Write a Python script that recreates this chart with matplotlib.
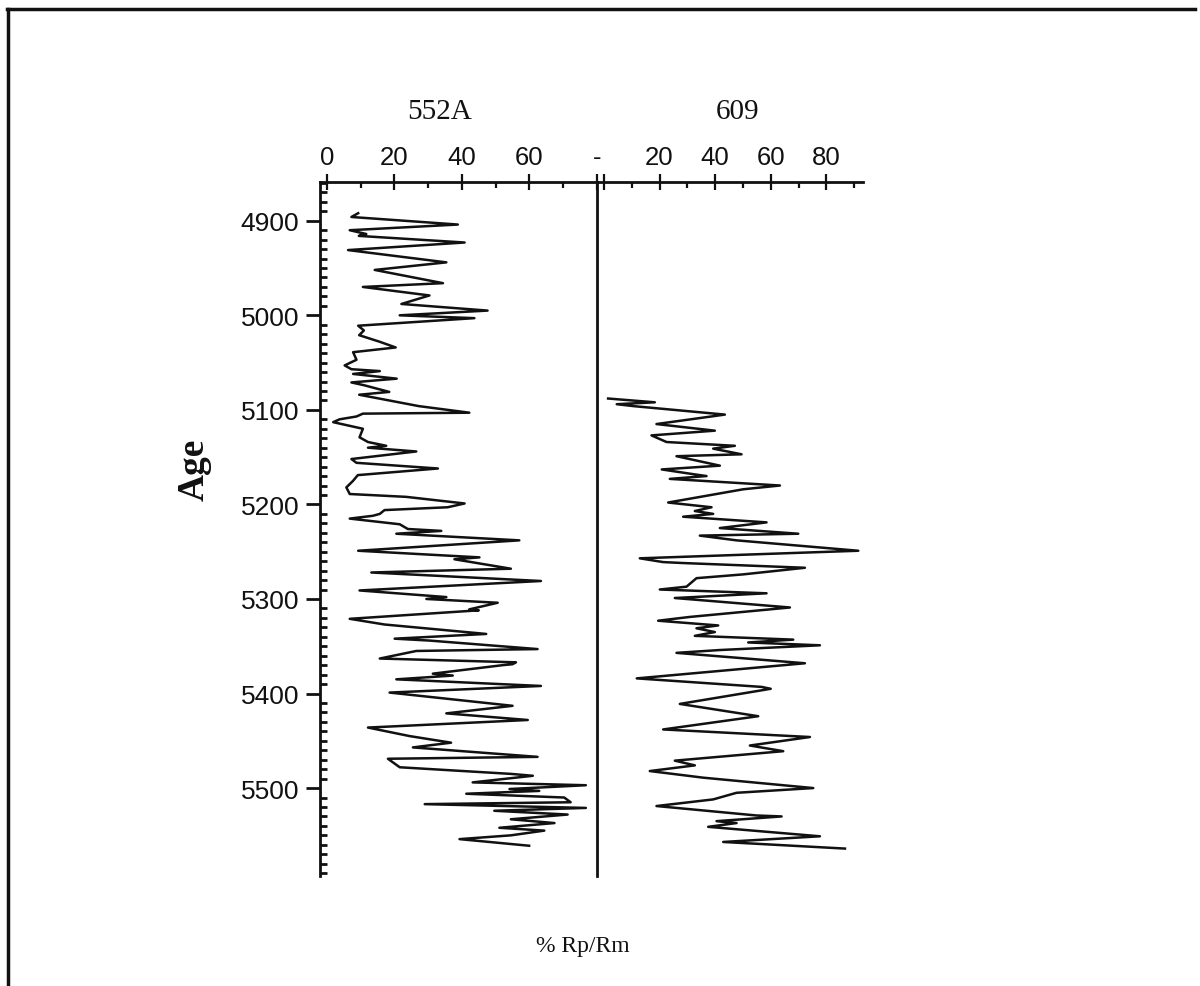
import matplotlib
matplotlib.use("Agg")
import matplotlib.pyplot as plt
from matplotlib.lines import Line2D
from matplotlib.ticker import FixedLocator

# ---------------- data ----------------
age_552a = [4892, 4896, 4904, 4910, 4914, 4916, 4923, 4931, 4944, 4952, 4966, 4970, 4979, 4988,
            4995, 5000, 5003, 5011, 5016, 5021, 5028, 5034, 5039, 5047, 5053, 5057, 5059, 5062,
            5067, 5071, 5074, 5081, 5084, 5096, 5103, 5104, 5107, 5110, 5113, 5120, 5129, 5134,
            5138, 5140, 5144, 5152, 5156, 5162, 5169, 5175, 5182, 5189, 5192, 5199, 5203, 5206,
            5210, 5212, 5215, 5221, 5226, 5228, 5231, 5238, 5249, 5256, 5258, 5268, 5272, 5281,
            5291, 5298, 5300, 5304, 5311, 5312, 5321, 5327, 5337, 5342, 5344, 5353, 5355, 5363,
            5367, 5369, 5370, 5379, 5381, 5385, 5392, 5399, 5413, 5421, 5428, 5436, 5445, 5452,
            5457, 5467, 5469, 5478, 5485, 5487, 5494, 5497, 5501, 5503, 5506, 5510, 5515, 5517,
            5521, 5524, 5528, 5533, 5537, 5542, 5545, 5550, 5554, 5561]
val_552a = [9.3, 7.3, 38.8, 6.8, 11.7, 9.5, 40.8, 6.3, 35.4, 14.2, 34.4, 10.7, 30.4, 22.1,
            47.6, 21.6, 43.7, 9.3, 11.0, 9.6, 15.7, 20.4, 7.8, 8.8, 5.3, 7.3, 15.7, 7.8,
            20.7, 7.3, 11.1, 18.5, 9.6, 27.2, 42.2, 10.7, 8.8, 3.8, 1.9, 10.7, 9.7, 12.2,
            17.6, 12.2, 26.5, 7.3, 8.8, 32.9, 9.2, 7.8, 5.8, 6.8, 23.5, 40.8, 35.8, 17.1,
            15.7, 13.7, 6.8, 21.6, 24.0, 33.9, 20.6, 57.0, 9.3, 45.2, 37.8, 54.5, 13.2, 63.4,
            9.7, 35.4, 29.5, 50.6, 42.2, 45.0, 6.8, 17.1, 47.2, 20.1, 30.4, 62.4, 26.5, 15.7,
            56.0, 55.0, 52.1, 31.4, 37.3, 20.6, 63.4, 18.6, 55.0, 35.4, 59.5, 12.2, 24.5, 36.8,
            25.5, 62.4, 18.1, 21.6, 54.5, 61.0, 43.2, 76.7, 54.1, 62.9, 41.3, 70.3, 72.2, 29.0,
            76.7, 49.6, 71.3, 54.5, 67.4, 51.1, 64.4, 54.5, 39.3, 59.9]

age_609 = [5088, 5092, 5094, 5096, 5105, 5115, 5122, 5127, 5134, 5138, 5141, 5147, 5149, 5159,
           5163, 5168, 5170, 5173, 5180, 5184, 5198, 5203, 5207, 5210, 5213, 5219, 5225, 5231,
           5233, 5238, 5249, 5257, 5261, 5262, 5267, 5274, 5278, 5287, 5290, 5294, 5299, 5309,
           5319, 5323, 5328, 5331, 5335, 5339, 5343, 5346, 5349, 5354, 5357, 5368, 5384, 5393,
           5395, 5411, 5424, 5438, 5446, 5455, 5461, 5471, 5476, 5482, 5489, 5500, 5505, 5512,
           5519, 5529, 5530, 5535, 5537, 5541, 5551, 5557, 5564]
val_609 = [1.5, 18.3, 4.6, 10.5, 43.5, 18.9, 39.9, 17.1, 22.5, 47.1, 39.3, 49.5, 26.1, 41.7,
           20.8, 32.1, 36.9, 23.7, 63.3, 50.1, 23.1, 38.7, 32.7, 39.3, 28.5, 58.5, 41.7, 69.9,
           34.5, 47.7, 91.5, 12.9, 21.3, 28.5, 72.3, 50.1, 33.3, 29.7, 20.1, 58.5, 25.5, 66.9,
           30.9, 19.5, 41.1, 33.3, 39.9, 32.7, 68.1, 51.9, 77.7, 41.7, 26.1, 72.3, 11.8, 56.7,
           60.0, 27.3, 55.5, 21.3, 74.1, 52.5, 64.5, 25.5, 32.7, 16.5, 35.7, 75.3, 47.7, 39.3,
           18.9, 54.9, 63.9, 40.5, 47.7, 37.5, 77.7, 42.9, 86.7]

y_ticks = [4900, 5000, 5100, 5200, 5300, 5400, 5500]
x_ticks_552a = [0, 20, 40, 60, 80]
x_labels_552a = ["0", "20", "40", "60", "-"]
x_ticks_609 = [0, 20, 40, 60, 80]
x_labels_609 = ["", "20", "40", "60", "80"]
title_552a = "552A"
title_609 = "609"
y_label = "Age"
x_label = "% Rp/Rm"

# ---------------- figure ----------------
W, H = 1200, 987
fig = plt.figure(figsize=(W / 100, H / 100), dpi=100)
fig.patch.set_facecolor("white")

def fx(px):
    return px / W

def fy(py):
    return 1 - py / H

top_px, bot_px = 183, 877
ax1 = fig.add_axes([fx(320), fy(bot_px), fx(597) - fx(320), (bot_px - top_px) / H])
ax2 = fig.add_axes([fx(597), fy(bot_px), fx(863) - fx(597), (bot_px - top_px) / H])

ink = "#111111"
sans = "Liberation Sans"
serif = "Liberation Serif"
ylim = (5593, 4859)

for ax in (ax1, ax2):
    ax.set_ylim(*ylim)
    ax.patch.set_alpha(0)
    ax.xaxis.tick_top()
    for s in ax.spines.values():
        s.set_color(ink)
        s.set_linewidth(2.0)
    ax.spines["bottom"].set_visible(False)
    ax.tick_params(axis="x", which="major", direction="inout", length=11, width=1.6,
                   colors=ink, labelsize=18.5, pad=4, top=True, bottom=False)
    ax.tick_params(axis="x", which="minor", direction="in", length=4, width=1.6,
                   colors=ink, top=True, bottom=False)

ax1.plot(val_552a, age_552a, color=ink, lw=1.8, solid_joinstyle="round")
ax2.plot(val_609, age_609, color=ink, lw=1.8, solid_joinstyle="round")

ax1.set_xlim(-2, 80)
ax2.set_xlim(-2.5, 93.2)

ax1.set_xticks(x_ticks_552a)
ax1.set_xticklabels(x_labels_552a, family=sans)
ax1.xaxis.set_minor_locator(FixedLocator([10, 30, 50, 70]))
ax2.set_xticks(x_ticks_609)
ax2.set_xticklabels(x_labels_609, family=sans)
ax2.xaxis.set_minor_locator(FixedLocator([10, 30, 50, 70, 90]))

# y axis (left panel)
ax1.set_yticks(y_ticks)
ax1.set_yticklabels([str(t) for t in y_ticks], family=sans)
ax1.yaxis.set_minor_locator(FixedLocator(list(range(4860, 5600, 10))))
ax1.tick_params(axis="y", which="major", direction="out", length=10, width=2.0,
                colors=ink, labelsize=19, pad=5, right=False)
ax1.tick_params(axis="y", which="minor", direction="in", length=5, width=2.0,
                colors=ink, right=False)
ax1.spines["right"].set_visible(True)

ax2.spines["left"].set_visible(False)
ax2.spines["right"].set_visible(False)
ax2.tick_params(axis="y", which="both", left=False, right=False, labelleft=False)

# titles and labels
fig.text(fx(440), fy(112), title_552a, family=serif, fontsize=21, ha="center", va="center", color=ink)
fig.text(fx(738), fy(112), title_609, family=serif, fontsize=21, ha="center", va="center", color=ink)
fig.text(fx(194), fy(470), y_label, family=serif, fontsize=27, fontweight="bold",
         rotation=90, ha="center", va="center", color=ink)
fig.text(fx(583), fy(947), x_label, family=serif, fontsize=17, ha="center", va="center", color=ink)

# outer frame (left and top edges)
fig.add_artist(Line2D([fx(8), fx(8)], [fy(985), fy(10)], color=ink, lw=2.5, transform=fig.transFigure))
fig.add_artist(Line2D([fx(7), fx(1195)], [fy(10), fy(10)], color=ink, lw=2.5, transform=fig.transFigure))

fig.savefig("out.png", dpi=100, facecolor="white")
